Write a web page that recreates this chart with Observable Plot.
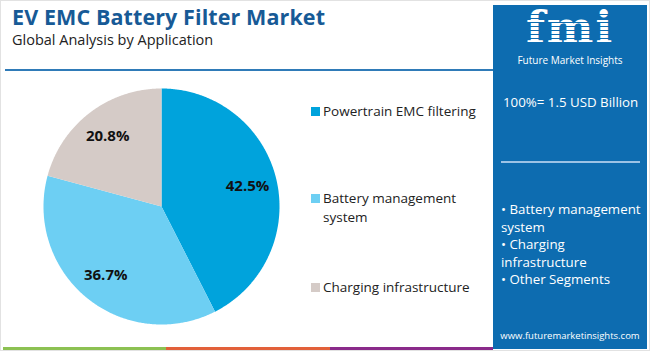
<!DOCTYPE html>
<html><head><meta charset="utf-8">
<script src="https://cdn.jsdelivr.net/npm/d3@7"></script>
<script src="https://cdn.jsdelivr.net/npm/@observablehq/plot@0.6"></script>
<style>
html,body{margin:0;padding:0;background:#fff;}
#frame{position:relative;width:650px;height:351px;overflow:hidden;font-family:"Open Sans",sans-serif;box-sizing:border-box;border:1px solid #e2e2e2;}
.abs{position:absolute;white-space:nowrap;}
#title{left:11px;top:1px;font-size:21.5px;font-weight:700;color:#175a96;letter-spacing:0.1px;}
#subtitle{left:11px;top:29px;font-size:14.5px;color:#222;}
#rule{left:4px;top:68px;width:489px;height:2px;background:#2f7bb8;}
#pie{left:42px;top:87px;}
.leg{position:absolute;left:310px;font-size:13.5px;color:#222;line-height:19px;}
.leg .sw{position:absolute;left:0;top:5px;width:9px;height:9px;}
.leg .tx{margin-left:12px;white-space:normal;width:160px;}
#panel{left:492px;top:4px;width:154px;height:344px;background:#0d6cb0;color:#fff;}
#bars{left:2px;top:346px;width:490px;height:3px;display:flex;}
</style></head>
<body>
<div id="frame">
  <div id="title" class="abs"></div>
  <div id="subtitle" class="abs"></div>
  <div id="rule" class="abs"></div>
  <div id="pie" class="abs"></div>
  <div id="legend"></div>
  <div id="panel" class="abs"></div>
  <div id="bars" class="abs"></div>
</div>
<script>
const titleText = "EV EMC Battery Filter Market";
const subtitleText = "Global Analysis by Application";
const categories = ["Powertrain EMC filtering", "Battery management system", "Charging infrastructure"];
const shares = [42.5, 36.7, 20.8];
const colors = ["#00a3dc", "#6dcff3", "#d5cbc7"];
const totalText = "100%= 1.5 USD Billion";
const panelBullets = ["Battery management system", "Charging infrastructure", "Other Segments"];
const siteText = "www.futuremarketinsights.com";
const bottomColors = ["#8cc152", "#e2603a", "#8a2a8a"];

document.getElementById("title").textContent = titleText;
document.getElementById("subtitle").textContent = subtitleText;

// pie slices as polygons (angles clockwise from 12 o'clock)
const total = d3.sum(shares);
const pts = [];
const labels = [];
let acc = 0;
categories.forEach((c, i) => {
  const a0 = acc / total * 2 * Math.PI;
  acc += shares[i];
  const a1 = acc / total * 2 * Math.PI;
  pts.push({cat: c, x: 0, y: 0});
  const n = Math.max(2, Math.ceil((a1 - a0) / (Math.PI / 360)));
  for (let k = 0; k <= n; k++) {
    const a = a0 + (a1 - a0) * k / n;
    pts.push({cat: c, x: Math.sin(a), y: Math.cos(a)});
  }
  pts.push({cat: c, x: 0, y: 0});
  const am = (a0 + a1) / 2;
  labels.push({x: 0.75 * Math.sin(am), y: 0.75 * Math.cos(am), text: shares[i].toFixed(1) + "%"});
});

const chart = Plot.plot({
  width: 236, height: 236, margin: 0,
  x: {domain: [-1, 1], axis: null},
  y: {domain: [-1, 1], axis: null},
  color: {domain: categories, range: colors},
  style: {background: "transparent", overflow: "visible"},
  marks: [
    Plot.line(pts, {x: "x", y: "y", z: "cat", fill: "cat", stroke: "none"}),
    Plot.text(labels, {x: "x", y: "y", text: "text", fontSize: 15, fontWeight: 700, fill: "#111", fontFamily: "Open Sans"})
  ]
});
document.getElementById("pie").appendChild(chart);

// legend
const legTops = [101, 188, 277];
const leg = document.getElementById("legend");
categories.forEach((c, i) => {
  const d = document.createElement("div");
  d.className = "leg";
  d.style.top = legTops[i] + "px";
  d.innerHTML = `<div class="sw" style="background:${colors[i]}"></div><div class="tx"></div>`;
  d.querySelector(".tx").textContent = c;
  leg.appendChild(d);
});

// right panel
const panel = document.getElementById("panel");
panel.innerHTML = `
 <div class="abs" style="left:0;top:0;width:154px;text-align:center;top:-2px;font-family:'DejaVu Serif',serif;font-weight:700;font-size:44px;line-height:50px;letter-spacing:2px;">fmi</div>
 <div class="abs" style="left:22px;top:6px;width:110px;height:40px;background:repeating-linear-gradient(180deg, rgba(13,108,176,0) 0px, rgba(13,108,176,0) 3px, #0d6cb0 3px, #0d6cb0 4px);"></div>
 <div class="abs" style="left:0;width:154px;text-align:center;top:48px;font-size:10px;">Future Market Insights</div>
 <div class="abs" id="tot" style="left:10px;top:88px;font-size:13.3px;"></div>
 <div class="abs" style="left:8px;top:156px;width:139px;height:2px;background:#9cc3e6;"></div>
 <div class="abs" id="bul" style="left:8px;top:196px;font-size:13.3px;line-height:17.5px;white-space:normal;width:145px;"></div>
 <div class="abs" id="site" style="left:0;width:154px;text-align:center;top:324px;font-size:9.5px;"></div>`;
document.getElementById("tot").textContent = totalText;
document.getElementById("site").textContent = siteText;
const bul = document.getElementById("bul");
panelBullets.forEach(b => {
  const d = document.createElement("div");
  d.textContent = "\u2022 " + b;
  bul.appendChild(d);
});

// bottom colour bar
const bars = document.getElementById("bars");
bottomColors.forEach(c => {
  const d = document.createElement("div");
  d.style.flex = "1"; d.style.background = c;
  bars.appendChild(d);
});
</script>
</body></html>
